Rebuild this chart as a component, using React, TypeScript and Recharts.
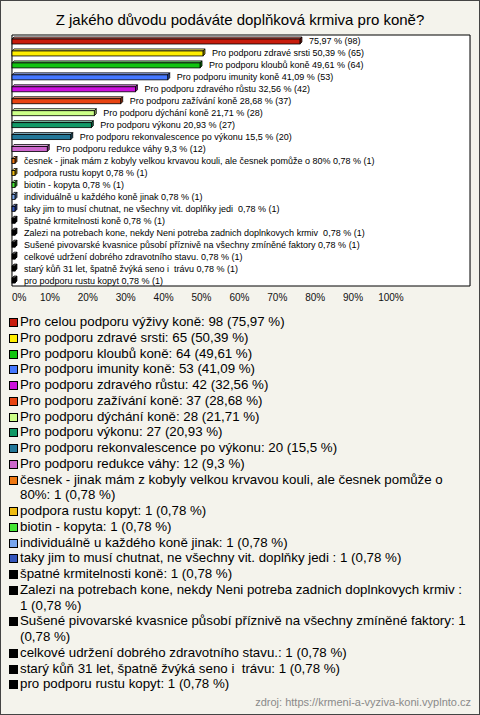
import React from "react";
import { BarChart, Bar, XAxis, YAxis, CartesianGrid, LabelList, ReferenceArea } from "recharts";

const TITLE = "Z jakého důvodu podáváte doplňková krmiva pro koně?";
const SOURCE = "zdroj: https://krmeni-a-vyziva-koni.vyplnto.cz";

const categories = [
  "Pro celou podporu výživy koně",
  "Pro podporu zdravé srsti",
  "Pro podporu kloubů koně",
  "Pro podporu imunity koně",
  "Pro podporu zdravého růstu",
  "Pro podporu zažívání koně",
  "Pro podporu dýchání koně",
  "Pro podporu výkonu",
  "Pro podporu rekonvalescence po výkonu",
  "Pro podporu redukce váhy",
  "česnek - jinak mám z kobyly velkou krvavou kouli, ale česnek pomůže o 80%",
  "podpora rustu kopyt",
  "biotin - kopyta",
  "individuálně u každého koně jinak",
  "taky jim to musí chutnat, ne všechny vit. doplňky jedi ",
  "špatné krmitelnosti koně",
  "Zalezi na potrebach kone, nekdy Neni potreba zadnich doplnkovych krmiv ",
  "Sušené pivovarské kvasnice působí příznivě na všechny zmíněné faktory",
  "celkové udržení dobrého zdravotního stavu.",
  "starý kůň 31 let, špatně žvýká seno i  trávu",
  "pro podporu rustu kopyt",
];

const counts = [98, 65, 64, 53, 42, 37, 28, 27, 20, 12, 1, 1, 1, 1, 1, 1, 1, 1, 1, 1, 1];

const percents = [75.97, 50.39, 49.61, 41.09, 32.56, 28.68, 21.71, 20.93, 15.5, 9.3,
  0.78, 0.78, 0.78, 0.78, 0.78, 0.78, 0.78, 0.78, 0.78, 0.78, 0.78];

const colors = [
  "#c81c0c", "#ffee00", "#11c411", "#4477ff", "#cc11dd", "#e84412", "#ccff88",
  "#119966", "#227799", "#cc66cc", "#ee7711", "#eebb11", "#44e633", "#77a6ee",
  "#3355bb", "#000000", "#000000", "#000000", "#000000", "#000000", "#000000",
];

const xTicks = [0, 10, 20, 30, 40, 50, 60, 70, 80, 90, 100];
const X_MAX = 120.85;

const fmt = (v: number) => String(v).replace(".", ",");

const data = categories.map((name, i) => ({
  name,
  pct: percents[i],
  count: counts[i],
  color: colors[i],
  label: i === 0 ? `${fmt(percents[i])} % (${counts[i]})` : `${name} ${fmt(percents[i])} % (${counts[i]})`,
}));

function mix(hex: string, target: number, t: number) {
  const n = parseInt(hex.slice(1), 16);
  const r = (n >> 16) & 255, g = (n >> 8) & 255, b = n & 255;
  const m = (c: number) => Math.round(c + (target - c) * t);
  return `rgb(${m(r)},${m(g)},${m(b)})`;
}

const D = 2;

const Bar3D = (props: any) => {
  const { x, y, width, height, payload } = props;
  const c = payload.color;
  const w = Math.max(width, 0);
  const yy = y + 1;
  const top = `${x},${yy} ${x + D},${yy - D} ${x + w + D},${yy - D} ${x + w},${yy}`;
  const side = `${x + w},${yy} ${x + w + D},${yy - D} ${x + w + D},${yy + height - D} ${x + w},${yy + height}`;
  return (
    <g>
      <polygon points={top} fill={mix(c, 255, 0.45)} stroke="#000" strokeWidth={0.8} />
      <polygon points={side} fill={mix(c, 0, 0.35)} stroke="#000" strokeWidth={0.8} />
      <rect x={x} y={yy} width={w} height={height} fill={c} stroke="#000" strokeWidth={0.8} />
    </g>
  );
};

const BarLabel = (props: any) => {
  const { x, y, width, height, value, index } = props;
  return (
    <text
      x={x + width + 9}
      y={y + height / 2 + (index === 0 ? 0 : 1)}
      dominantBaseline="central"
      fontSize={9}
      fontFamily="'Liberation Sans', Arial, sans-serif"
      fill="#000"
      style={{ whiteSpace: "pre" }}
    >
      {value}
    </text>
  );
};

const XTick = (props: any) => {
  const { x, y, payload } = props;
  const first = payload.value === 0;
  return (
    <text
      x={x}
      y={y + 7}
      textAnchor={first ? "start" : "middle"}
      fontSize={10}
      fontFamily="'Liberation Sans', Arial, sans-serif"
      fill="#111"
    >
      {`${payload.value}%`}
    </text>
  );
};

export default function App() {
  return (
    <div
      style={{
        position: "absolute",
        top: 0,
        left: 0,
        width: 480,
        height: 715,
        boxSizing: "border-box",
        border: "1px solid #444",
        background: "#f4f3ec",
        fontFamily: "'Liberation Sans', Arial, sans-serif",
        overflow: "hidden",
      }}
    >
      <div
        style={{
          position: "absolute",
          top: 10,
          left: 0,
          width: 478,
          textAlign: "center",
          fontSize: 15,
          lineHeight: "18px",
          color: "#000",
        }}
      >
        {TITLE}
      </div>
      <div style={{ position: "absolute", top: -1, left: -1 }}>
        <BarChart
          layout="vertical"
          width={480}
          height={305}
          data={data}
          margin={{ top: 35, left: 12, right: 10, bottom: 0 }}
        >
          <ReferenceArea x1={0} x2={X_MAX} fill="#ffffff" fillOpacity={1} stroke="#000" strokeWidth={1} ifOverflow="visible" />
          <CartesianGrid horizontal={false} stroke="#c4c4c4" strokeWidth={1} />
          <XAxis
            type="number"
            domain={[0, X_MAX]}
            ticks={xTicks}
            axisLine={false}
            tickLine={false}
            height={19}
            tick={<XTick />}
            interval={0}
          />
          <YAxis type="category" dataKey="name" hide />
          <Bar dataKey="pct" barSize={5} shape={<Bar3D />} isAnimationActive={false}>
            <LabelList dataKey="label" content={<BarLabel />} />
          </Bar>
        </BarChart>
      </div>
      <div
        style={{
          position: "absolute",
          top: 313,
          left: 7,
          width: 460,
          fontSize: 13.3,
          lineHeight: "15.75px",
          color: "#000",
        }}
      >
        {data.map((d) => (
          <div key={d.name} style={{ display: "flex", alignItems: "flex-start" }}>
            <span
              style={{
                flex: "0 0 auto",
                width: 7,
                height: 7,
                marginTop: 4,
                marginRight: 2,
                marginLeft: 1,
                background: d.color,
                border: "1px solid #000",
              }}
            />
            <span style={{ whiteSpace: "pre-wrap" }}>{`${d.name}: ${d.count} (${fmt(d.pct)} %)`}</span>
          </div>
        ))}
      </div>
      <div
        style={{
          position: "absolute",
          top: 695,
          right: 8,
          fontSize: 11,
          color: "#8a8a8a",
        }}
      >
        {SOURCE}
      </div>
    </div>
  );
}
